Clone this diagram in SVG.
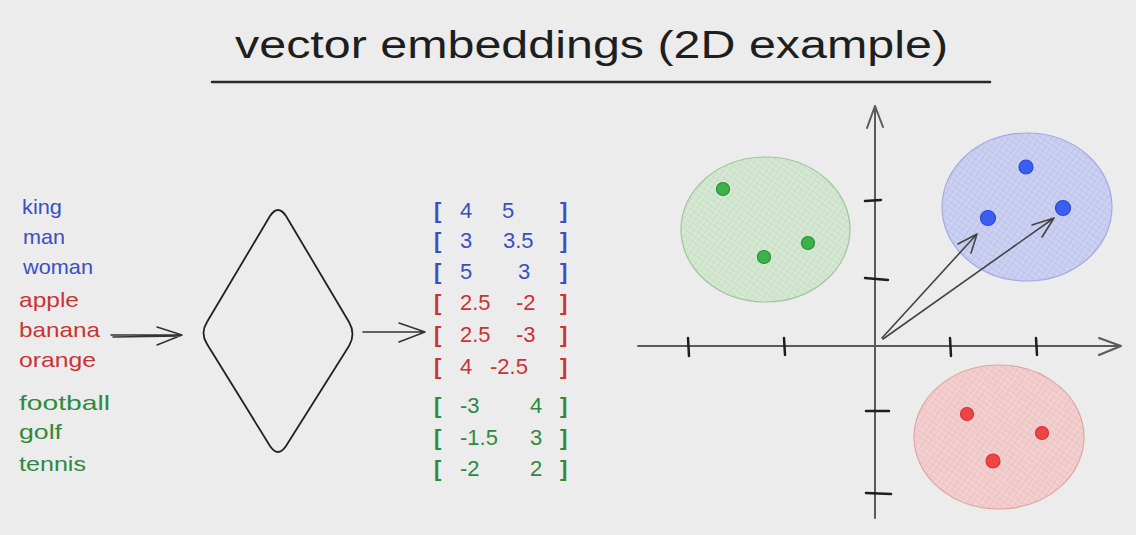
<svg xmlns="http://www.w3.org/2000/svg" width="1136" height="535" viewBox="0 0 1136 535">
<defs>
<style>
.t{font-family:"Liberation Sans",Arial,sans-serif;}
.title{font-size:38px;fill:#1e1e1e;}
.w{font-size:21px;}
.n{font-size:22px;}
.br{font-weight:bold;}
.blue{fill:#3a4fc4;}
.red{fill:#c83434;}
.green{fill:#2f8a3c;}
.ax{stroke:#5a5a5a;stroke-width:2;fill:none;stroke-linecap:round;stroke-linejoin:round;}
.tick{stroke:#1e1e1e;stroke-width:2.5;fill:none;stroke-linecap:round;}
.arr{stroke:#333;stroke-width:1.5;fill:none;stroke-linecap:round;stroke-linejoin:round;}
.vec{stroke:#444;stroke-width:1.6;fill:none;stroke-linecap:round;stroke-linejoin:round;}
</style>
<pattern id="hG" patternUnits="userSpaceOnUse" width="5" height="5" patternTransform="rotate(35)">
<rect width="5" height="5" fill="#d6e8d4"/>
<path d="M0 0V5M0 0H5" stroke="#bcd9b8" stroke-width="1"/>
</pattern>
<pattern id="hB" patternUnits="userSpaceOnUse" width="5" height="5" patternTransform="rotate(35)">
<rect width="5" height="5" fill="#cdd1f1"/>
<path d="M0 0V5M0 0H5" stroke="#b3b9ea" stroke-width="1"/>
</pattern>
<pattern id="hR" patternUnits="userSpaceOnUse" width="5" height="5" patternTransform="rotate(35)">
<rect width="5" height="5" fill="#f3d0d0"/>
<path d="M0 0V5M0 0H5" stroke="#eab6b6" stroke-width="1"/>
</pattern>
</defs>
<rect width="1136" height="535" fill="#ececec"/>

<g id="title">
<text class="t title" x="235" y="58" textLength="713" lengthAdjust="spacingAndGlyphs">vector embeddings (2D example)</text>
<path d="M212 82 L990 82" stroke="#2a2a2a" stroke-width="2.5" stroke-linecap="round"/>
</g>

<g id="words" class="t w">
<text class="blue" x="22" y="214" textLength="40" lengthAdjust="spacingAndGlyphs">king</text>
<text class="blue" x="23" y="244" textLength="42" lengthAdjust="spacingAndGlyphs">man</text>
<text class="blue" x="23" y="274" textLength="70" lengthAdjust="spacingAndGlyphs">woman</text>
<text class="red" x="19" y="307" textLength="60" lengthAdjust="spacingAndGlyphs">apple</text>
<text class="red" x="19" y="337" textLength="81" lengthAdjust="spacingAndGlyphs">banana</text>
<text class="red" x="19" y="367" textLength="77" lengthAdjust="spacingAndGlyphs">orange</text>
<text class="green" x="19" y="410" textLength="91" lengthAdjust="spacingAndGlyphs">football</text>
<text class="green" x="19" y="439" textLength="43" lengthAdjust="spacingAndGlyphs">golf</text>
<text class="green" x="19" y="471" textLength="67" lengthAdjust="spacingAndGlyphs">tennis</text>
</g>

<g id="model">
<path d="M270 216 Q278 204 286 216 L349 322 Q356 334 349 346 L286 446 Q278 458 270 446 L207 344 Q200 333 207 322 Z" fill="none" stroke="#222" stroke-width="1.8" stroke-linejoin="round"/>
</g>

<g id="vectors" class="t n">
<g class="blue">
<text class="br" x="434" y="218">[</text><text x="460" y="218">4</text><text x="502" y="218">5</text><text class="br" x="560" y="218">]</text>
<text class="br" x="434" y="248">[</text><text x="460" y="248">3</text><text x="503" y="248">3.5</text><text class="br" x="560" y="248">]</text>
<text class="br" x="434" y="279">[</text><text x="460" y="279">5</text><text x="518" y="279">3</text><text class="br" x="560" y="279">]</text>
</g>
<g class="red">
<text class="br" x="434" y="310">[</text><text x="460" y="310">2.5</text><text x="516" y="310">-2</text><text class="br" x="560" y="310">]</text>
<text class="br" x="434" y="342">[</text><text x="460" y="342">2.5</text><text x="516" y="342">-3</text><text class="br" x="560" y="342">]</text>
<text class="br" x="434" y="374">[</text><text x="460" y="374">4</text><text x="490" y="374">-2.5</text><text class="br" x="560" y="374">]</text>
</g>
<g class="green">
<text class="br" x="434" y="413">[</text><text x="460" y="413">-3</text><text x="530" y="413">4</text><text class="br" x="560" y="413">]</text>
<text class="br" x="434" y="445">[</text><text x="460" y="445">-1.5</text><text x="530" y="445">3</text><text class="br" x="560" y="445">]</text>
<text class="br" x="434" y="476">[</text><text x="460" y="476">-2</text><text x="530" y="476">2</text><text class="br" x="560" y="476">]</text>
</g>
</g>

<g id="connectors">
<path class="arr" d="M111 335 L182 335 M182 335 L157 327 M182 335 L157 345 M113 337 L180 336"/>
<path class="arr" d="M363 332 L425 332 M425 332 L399 323 M425 332 L399 342"/>
</g>

<g id="cluster-green">
<ellipse cx="765.5" cy="229.5" rx="84.5" ry="72.5" fill="url(#hG)" stroke="#9dc69a" stroke-width="1.2"/>
<circle cx="723" cy="189" r="6.5" fill="#3bb24a" stroke="#2a8f36" stroke-width="1.2"/>
<circle cx="764" cy="257" r="6.5" fill="#3bb24a" stroke="#2a8f36" stroke-width="1.2"/>
<circle cx="808" cy="243" r="6.5" fill="#3bb24a" stroke="#2a8f36" stroke-width="1.2"/>
</g>
<g id="cluster-blue">
<ellipse cx="1027" cy="207" rx="85" ry="74" fill="url(#hB)" stroke="#a3aae2" stroke-width="1.2"/>
<circle cx="1026" cy="167" r="7" fill="#3b5ef2" stroke="#2d49cf" stroke-width="1.2"/>
<circle cx="988" cy="218" r="7.5" fill="#3b5ef2" stroke="#2d49cf" stroke-width="1.2"/>
<circle cx="1063" cy="208" r="7.5" fill="#3b5ef2" stroke="#2d49cf" stroke-width="1.2"/>
</g>
<g id="cluster-red">
<ellipse cx="999" cy="437" rx="85" ry="72" fill="url(#hR)" stroke="#e0a4a4" stroke-width="1.2"/>
<circle cx="967" cy="414" r="6.5" fill="#ef4444" stroke="#d23434" stroke-width="1.2"/>
<circle cx="1042" cy="433" r="6.5" fill="#ef4444" stroke="#d23434" stroke-width="1.2"/>
<circle cx="993" cy="461" r="7" fill="#ef4444" stroke="#d23434" stroke-width="1.2"/>
</g>

<g id="axes">
<path class="ax" d="M875 518 L875 106 M875 106 L867 128 M875 106 L883 127"/>
<path class="ax" d="M638 346 L1121 346 M1121 346 L1099 338 M1121 346 L1099 355"/>
<path class="tick" d="M688 338 L689 356 M784 338 L785 355 M950 338 L951 356 M1036 338 L1037 355"/>
<path class="tick" d="M865 201 L881 200 M865 278 L888 280 M866 411 L889 411 M866 493 L891 494"/>
</g>

<g id="vector-arrows">
<path class="vec" d="M882 338 L977 234 M977 234 L958 244 M977 234 L971 253"/>
<path class="vec" d="M883 339 L1054 218 M1054 218 L1032 225 M1054 218 L1042 237"/>
</g>
</svg>
